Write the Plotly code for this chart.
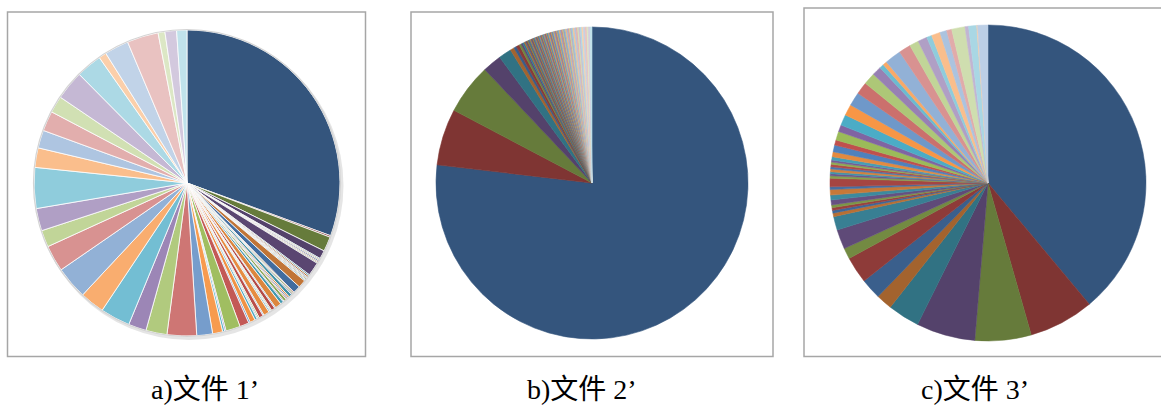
import plotly.graph_objects as go

W, H = 1161, 405

# ---- data (slice sizes, in degrees of the full circle) ----
file1_values = [110.0, 0.6, 5.6, 3.2, 0.4, 0.4, 0.5, 0.4, 0.4, 5.2, 0.5, 0.6,
                0.4, 0.3, 0.4, 0.3, 0.4, 3.0, 2.8, 0.4, 0.5, 0.4, 1.2, 0.6,
                0.5, 0.4, 1.0, 0.4, 1.2, 2.4, 0.4, 1.4, 0.4, 0.3, 0.5, 2.2,
                0.4, 1.6, 0.5, 0.4, 0.9, 2.0, 0.6, 3.5, 5.5, 0.5, 0.8, 3.8,
                6.0, 11.2, 8.0, 6.8, 11.3, 9.3, 12.4, 10.0, 6.4, 8.5, 15.5, 7.4,
                6.8, 7.6, 6.4, 11.1, 9.8, 2.9, 9.2, 11.9, 2.6, 4.4, 3.9]

file2_values = [277.2, 21.1, 18.9, 7.1, 4.8, 1.5, 1.0, 1.2, 0.8, 0.6, 0.7, 0.5,
                0.4, 0.35, 0.4, 0.3, 0.35, 0.4, 0.3, 0.35, 0.3, 0.3, 0.35, 0.3,
                0.3, 0.3, 0.25, 0.3, 0.3, 0.3, 0.3, 0.25, 0.3, 0.3, 0.25, 0.3,
                0.3, 0.3, 0.3, 0.25, 0.3, 0.35, 0.35, 0.3, 0.3, 0.35, 0.3, 0.35,
                0.35, 0.4, 0.35, 0.3, 0.35, 0.4, 0.4, 0.45, 0.4, 0.35, 0.4, 0.45,
                0.45, 0.5, 0.45, 0.4, 0.5, 0.55, 0.55, 0.6, 0.5, 0.5, 0.55, 0.6,
                0.6, 0.7, 0.55, 0.6, 0.75]

file3_values = [140.1, 24.0, 20.7, 21.7, 11.7, 5.9, 7.6, 9.8, 4.0, 7.2, 5.0,
                1.3, 1.0, 1.0, 1.0, 1.8, 1.8, 2.0, 1.0, 3.1,
                0.9, 0.8, 0.7, 1.0, 0.8, 0.9, 0.8, 0.8, 1.2, 1.8,
                2.5, 1.9, 3.2, 2.5, 4.0, 4.1, 5.0, 4.5, 4.4, 3.4, 1.6, 1.5,
                6.0, 4.4, 3.4, 3.4, 1.9, 3.2, 2.5, 1.9, 4.9, 1.3, 3.0, 0.3, 3.8]

captions = ["a)文件 1’", "b)文件 2’", "c)文件 3’"]

# ---- style ----
ACCENTS = ["#4F81BD", "#C0504D", "#9BBB59", "#8064A2", "#4BACC6", "#F79646"]
levels_a = [-0.34, -0.30, -0.22, -0.16, -0.11, -0.07, -0.03, 0.05, 0.22, 0.38, 0.54, 0.65]
levels_b = [-0.34, -0.28, -0.22, -0.17, -0.12, -0.07, -0.02, 0.05, 0.15, 0.28, 0.42, 0.55, 0.65]
levels_c = [-0.34, -0.26, -0.20, -0.14, -0.08, 0.0, 0.18, 0.38, 0.52, 0.62]


def vary(hexc, v):
    r, g, b = int(hexc[1:3], 16), int(hexc[3:5], 16), int(hexc[5:7], 16)
    if v < 0:
        f = 1 + v
        r, g, b = r * f, g * f, b * f
    else:
        r, g, b = r + (255 - r) * v, g + (255 - g) * v, b + (255 - b) * v
    return "rgb(%d,%d,%d)" % (round(r), round(g), round(b))


def palette(n, levels):
    return [vary(ACCENTS[i % 6], levels[min(i // 6, len(levels) - 1)]) for i in range(n)]


def dom(cx, cy, r):
    return dict(x=[(cx - r) / W, (cx + r) / W], y=[1 - (cy + r) / H, 1 - (cy - r) / H])


def circle(cx, cy, r, fill, line=None, layer="below"):
    return dict(type="circle", xref="paper", yref="paper",
                x0=(cx - r) / W, x1=(cx + r) / W, y0=1 - (cy + r) / H, y1=1 - (cy - r) / H,
                line=line or dict(width=0), fillcolor=fill, layer=layer)


fig = go.Figure()

pies = [
    (file1_values, levels_a, (187, 183, 153), "white", 0.8),
    (file2_values, levels_b, (592, 183, 156), None, 0.6),
    (file3_values, levels_c, (988, 183, 158), None, 0.5),
]
for vals, lev, (cx, cy, r), lcol, lw in pies:
    cols = palette(len(vals), lev)
    fig.add_trace(go.Pie(
        values=vals,
        labels=[str(i) for i in range(len(vals))],
        sort=False, direction="clockwise", rotation=0,
        textinfo="none", hoverinfo="skip", showlegend=False,
        marker=dict(colors=cols, line=dict(color=lcol if lcol else cols, width=lw)),
        domain=dom(cx, cy, r),
    ))

shapes = []
# frames
for x0, y0, x1, y1 in [(7.5, 12, 365.5, 356.5), (411, 12, 773, 356.5), (804, 8, 1163, 356.5)]:
    shapes.append(dict(type="rect", xref="paper", yref="paper",
                       x0=x0 / W, x1=x1 / W, y0=1 - y1 / H, y1=1 - y0 / H,
                       line=dict(color="#A6A6A6", width=1.5), fillcolor="rgba(0,0,0,0)",
                       layer="below"))
# soft shadow and rim of pie a
shapes.append(circle(189, 185.5, 154.5, "rgba(0,0,0,0.10)"))
shapes.append(circle(187, 183, 153.5, "rgba(0,0,0,0)", dict(width=1.2, color="#D4D4D4"), "above"))

annotations = []
for txt, cx in zip(captions, [205, 582, 975]):
    annotations.append(dict(text=txt, x=cx / W, y=1 - 389 / H, xref="paper", yref="paper",
                            showarrow=False, xanchor="center", yanchor="middle",
                            font=dict(family="Liberation Serif, Noto Sans CJK SC", size=28, color="black")))

fig.update_layout(width=W, height=H, margin=dict(l=0, r=0, t=0, b=0),
                  paper_bgcolor="white", plot_bgcolor="white",
                  shapes=shapes, annotations=annotations)

fig.write_html("out.html")
